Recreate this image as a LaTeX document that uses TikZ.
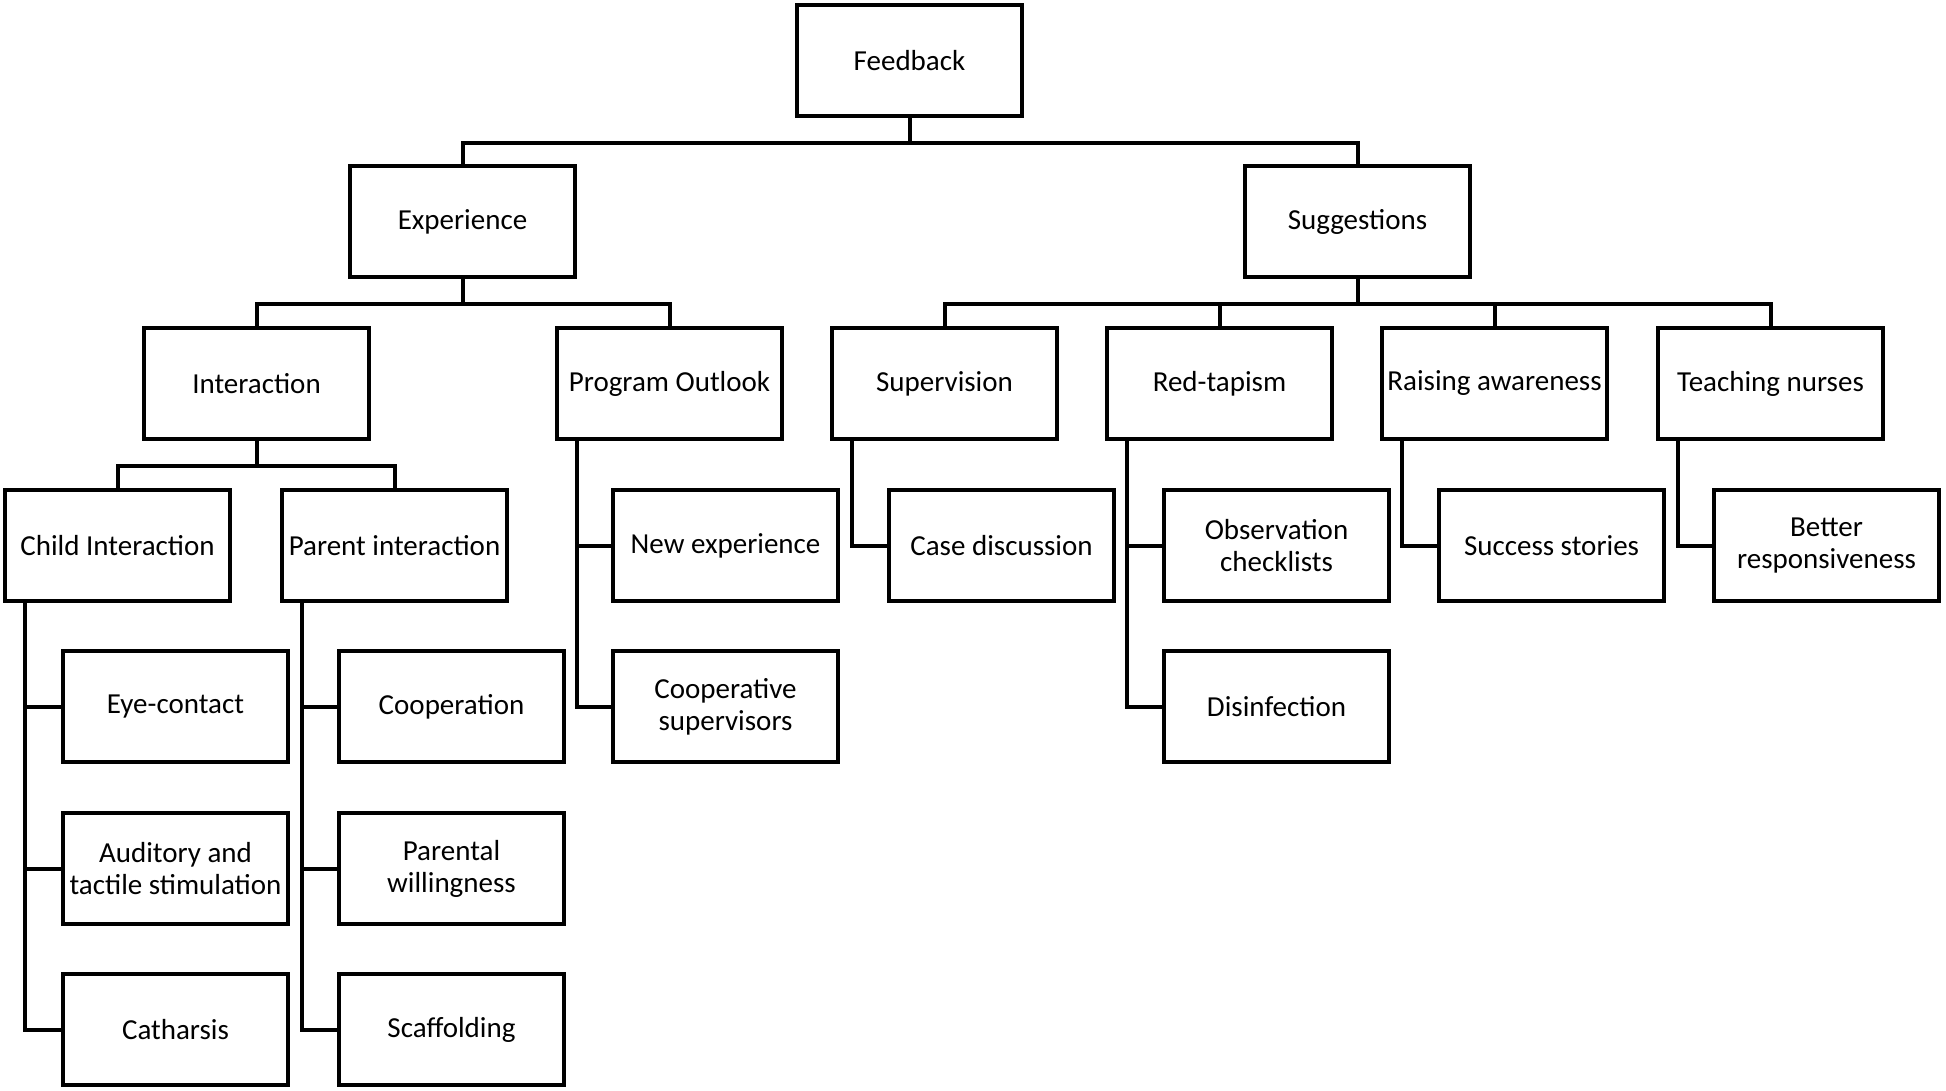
\documentclass[tikz,border=0pt]{standalone}
\usepackage{fontspec}
\setmainfont{Carlito}
\begin{document}
\begin{tikzpicture}[x=1pt,y=-1pt,
  box/.style={draw, line width=4pt, minimum width=225pt, minimum height=111pt, inner sep=0pt, align=center, font=\fontsize{29}{32}\selectfont},
  conn/.style={line width=4pt, line join=miter}]
\useasboundingbox (0,0) rectangle (1946,1090);
\node[box] (fb) at (909.5,60.5) {Feedback};
\node[box] (exp) at (462.5,221.5) {Experience};
\node[box] (sug) at (1357.5,221.5) {Suggestions};
\node[box] (int) at (256.5,383.5) {Interaction};
\node[box] (po) at (669.5,383.5) {Program Outlook};
\node[box] (sup) at (944.5,383.5) {Supervision};
\node[box] (red) at (1219.5,383.5) {Red-tapism};
\node[box] (rai) at (1494.5,383.5) {Raising awareness};
\node[box] (tea) at (1770.5,383.5) {Teaching nurses};
\node[box] (ci) at (117.5,545.5) {Child Interaction};
\node[box] (pi) at (394.5,545.5) {Parent interaction};
\node[box] (ne) at (725.5,545.5) {New experience};
\node[box] (cd) at (1001.5,545.5) {Case discussion};
\node[box] (oc) at (1276.5,545.5) {Observation\\checklists};
\node[box] (ss) at (1551.5,545.5) {Success stories};
\node[box] (br) at (1826.5,545.5) {Better\\responsiveness};
\node[box] (eye) at (175.5,706.5) {Eye-contact};
\node[box] (coop) at (451.5,706.5) {Cooperation};
\node[box] (cs) at (725.5,706.5) {Cooperative\\supervisors};
\node[box] (dis) at (1276.5,706.5) {Disinfection};
\node[box] (aud) at (175.5,868.5) {Auditory and\\tactile stimulation};
\node[box] (pw) at (451.5,868.5) {Parental\\willingness};
\node[box] (cat) at (175.5,1029.5) {Catharsis};
\node[box] (sca) at (451.5,1029.5) {Scaffolding};
% tree connectors
\foreach \p/\c in {fb/exp, fb/sug, exp/int, exp/po, sug/sup, sug/red, sug/rai, sug/tea, int/ci, int/pi}
  \draw[conn] (\p.south) -- ++(0,25) -| (\c.north);
% side connectors
\foreach \p/\c in {ci/eye, ci/aud, ci/cat, pi/coop, pi/pw, pi/sca, po/ne, po/cs, sup/cd, red/oc, red/dis, rai/ss, tea/br}
  \draw[conn] ([xshift=22pt]\p.south west) |- (\c.west);
\end{tikzpicture}
\end{document}
